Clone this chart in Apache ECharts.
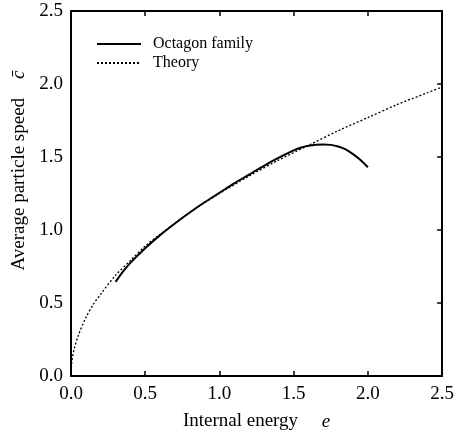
<!DOCTYPE html>
<html>
<head>
<meta charset="utf-8">
<script src="https://cdn.jsdelivr.net/npm/echarts@6/dist/echarts.min.js"></script>
<style>
  html, body { margin: 0; padding: 0; background: #fff; }
  #chart { width: 457px; height: 436px; }
</style>
</head>
<body>
<div id="chart"></div>
<script>
// Internal energy e (x) against average particle speed c̄ (y)
const octagonE = [0.30, 0.35, 0.40, 0.50, 0.60, 0.70, 0.80, 0.90, 1.00, 1.10, 1.20, 1.30, 1.40, 1.50, 1.55, 1.60, 1.65, 1.70, 1.75, 1.80, 1.85, 1.90, 1.95, 2.00];
const octagonC = [0.645, 0.715, 0.775, 0.875, 0.965, 1.045, 1.120, 1.190, 1.255, 1.320, 1.380, 1.440, 1.495, 1.545, 1.565, 1.577, 1.584, 1.586, 1.583, 1.572, 1.552, 1.520, 1.480, 1.430];

const theoryE = [0, 0.005, 0.02, 0.05, 0.10, 0.15, 0.20, 0.30, 0.40, 0.50, 0.60, 0.80, 1.00, 1.20, 1.40, 1.60, 1.80, 2.00, 2.20, 2.40, 2.50];
const theoryC = [0, 0.09, 0.18, 0.28, 0.40, 0.49, 0.56, 0.69, 0.79, 0.89, 0.97, 1.12, 1.25, 1.37, 1.48, 1.58, 1.68, 1.77, 1.86, 1.94, 1.98];

const xTicks = [0, 0.5, 1.0, 1.5, 2.0, 2.5];
const yTicks = [0, 0.5, 1.0, 1.5, 2.0, 2.5];

const pairs = (xs, ys) => xs.map((x, i) => [x, ys[i]]);

const FONT = '"Liberation Serif", "Times New Roman", serif';
const axisLine = { show: true, onZero: false, lineStyle: { color: '#000', width: 2 } };
const innerTick = { show: true, inside: true, length: 5, lineStyle: { color: '#000', width: 1.5 } };
const tickFmt = v => v.toFixed(1);

const chart = echarts.init(document.getElementById('chart'), null, { renderer: 'canvas' });

chart.setOption({
  animation: false,
  backgroundColor: '#fff',
  grid: { left: 71, right: 12, top: 11, bottom: 51, containLabel: false },
  legend: {
    orient: 'vertical',
    left: 96,
    top: 36,
    padding: 0,
    itemWidth: 44,
    itemHeight: 16,
    itemGap: 3,
    itemStyle: { opacity: 0 },
    textStyle: { fontFamily: FONT, fontSize: 16, color: '#000', padding: [0, 0, 0, 7] },
    data: ['Octagon family', 'Theory']
  },
  xAxis: [
    {
      type: 'value', position: 'bottom',
      min: xTicks[0], max: xTicks[xTicks.length - 1], interval: 0.5,
      axisLine,
      axisTick: innerTick,
      axisLabel: { fontFamily: FONT, fontSize: 19, color: '#000', margin: 9, formatter: tickFmt },
      splitLine: { show: false },
      name: 'Internal energy     {i|e}',
      nameLocation: 'middle',
      nameGap: 36,
      nameTextStyle: {
        fontFamily: FONT, fontSize: 19, color: '#000',
        rich: { i: { fontFamily: FONT, fontSize: 19, fontStyle: 'italic', color: '#000' } }
      }
    },
    {
      type: 'value', position: 'top',
      min: xTicks[0], max: xTicks[xTicks.length - 1], interval: 0.5,
      axisLine,
      axisTick: innerTick,
      axisLabel: { show: false },
      splitLine: { show: false }
    }
  ],
  yAxis: [
    {
      type: 'value', position: 'left',
      min: yTicks[0], max: yTicks[yTicks.length - 1], interval: 0.5,
      axisLine,
      axisTick: { show: false },
      axisLabel: { fontFamily: FONT, fontSize: 19, color: '#000', margin: 8, formatter: tickFmt },
      splitLine: { show: false },
      name: 'Average particle speed    {i|c̄}',
      nameLocation: 'middle',
      nameGap: 37,
      nameRotate: 90,
      nameTextStyle: {
        fontFamily: FONT, fontSize: 19, color: '#000',
        padding: [0, 0, 0, 46],
        rich: { i: { fontFamily: FONT, fontSize: 19, fontStyle: 'italic', color: '#000' } }
      }
    },
    {
      type: 'value', position: 'right',
      min: yTicks[0], max: yTicks[yTicks.length - 1], interval: 0.5,
      axisLine,
      axisTick: innerTick,
      axisLabel: { show: false },
      splitLine: { show: false }
    }
  ],
  series: [
    {
      name: 'Octagon family',
      type: 'line',
      xAxisIndex: 0, yAxisIndex: 0,
      data: pairs(octagonE, octagonC),
      smooth: 0.3,
      symbol: 'none',
      lineStyle: { color: '#000', width: 2, type: 'solid' },
      itemStyle: { color: '#000' },
      z: 3
    },
    {
      name: 'Theory',
      type: 'line',
      xAxisIndex: 0, yAxisIndex: 0,
      data: pairs(theoryE, theoryC),
      smooth: 0.3,
      symbol: 'none',
      lineStyle: { color: '#000', width: 1.3, type: [2, 2] },
      itemStyle: { color: '#000' },
      z: 2
    }
  ]
});
</script>
</body>
</html>
